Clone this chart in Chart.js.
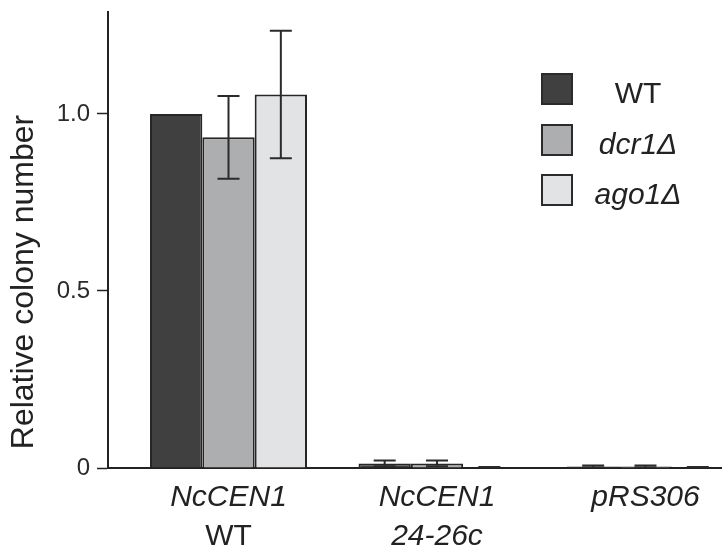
<!DOCTYPE html>
<html>
<head>
<meta charset="utf-8">
<script src="https://cdn.jsdelivr.net/npm/chart.js@4"></script>
<style>
  html, body { margin: 0; padding: 0; background: #fff; }
  #wrap { width: 722px; height: 548px; }
</style>
</head>
<body>
<div id="wrap"><canvas id="chart" width="722" height="548"></canvas></div>
<script>
// categories (line 1 / line 2 of each x label)
const categories = ['NcCEN1 WT', 'NcCEN1 24-26c', 'pRS306'];
const catLine1 = ['NcCEN1', 'NcCEN1', 'pRS306'];
const catLine2 = ['WT', '24-26c', ''];
const catLine2Italic = [false, true, false];

// series values (relative colony number)
const wtValues   = [1.000, 0.013, 0.004];
const dcr1Values = [0.934, 0.013, 0.004];
const ago1Values = [1.055, 0.002, 0.002];

// error (+/-)
const wtErrors   = [0.000, 0.008, 0.003];
const dcr1Errors = [0.117, 0.008, 0.003];
const ago1Errors = [0.180, 0.001, 0.001];

// y ticks
const yTicks = [0, 0.5, 1.0];
const yMax = 1.288;

const FONT = "'Liberation Sans', Arial, Helvetica, sans-serif";
const INK = '#222222';

function points(vals, errs) {
    return vals.map((v, i) => ({ x: i, y: v, err: errs[i] }));
}

// error bars drawn through the scales
const errorBars = {
    id: 'errorBars',
    afterDatasetsDraw(chart) {
        const ctx = chart.ctx;
        const yScale = chart.scales.y;
        const area = chart.chartArea;
        ctx.save();
        ctx.beginPath();
        ctx.rect(area.left, area.top - 2, area.right - area.left, area.bottom - area.top + 2);
        ctx.clip();
        ctx.strokeStyle = '#2b2b2b';
        ctx.lineWidth = 2;
        chart.data.datasets.forEach((ds, di) => {
            const meta = chart.getDatasetMeta(di);
            meta.data.forEach((bar, i) => {
                const p = ds.data[i];
                if (!p.err) return;
                const x = bar.x;
                const yTop = yScale.getPixelForValue(p.y + p.err);
                const yBot = yScale.getPixelForValue(p.y - p.err);
                const half = 11;
                ctx.beginPath();
                ctx.moveTo(x, yTop); ctx.lineTo(x, yBot);
                ctx.moveTo(x - half, yTop); ctx.lineTo(x + half, yTop);
                ctx.moveTo(x - half, yBot); ctx.lineTo(x + half, yBot);
                ctx.stroke();
            });
        });
        ctx.restore();
    }
};

// x labels, y title and legend
const decorations = {
    id: 'decorations',
    afterDraw(chart) {
        const ctx = chart.ctx;
        const xScale = chart.scales.x;
        ctx.save();
        ctx.fillStyle = INK;
        ctx.textAlign = 'center';
        ctx.textBaseline = 'alphabetic';

        categories.forEach((c, i) => {
            const x = xScale.getPixelForValue(i);
            ctx.font = 'italic 30px ' + FONT;
            ctx.fillText(catLine1[i], x, 506);
            if (catLine2[i]) {
                ctx.font = (catLine2Italic[i] ? 'italic ' : '') + '30px ' + FONT;
                ctx.fillText(catLine2[i], x, 545);
            }
        });

        // y axis title
        ctx.save();
        ctx.translate(33, 282);
        ctx.rotate(-Math.PI / 2);
        ctx.font = '32px ' + FONT;
        ctx.fillText('Relative colony number', 0, 0);
        ctx.restore();

        // legend
        const boxX = 541, boxSize = 32;
        const boxY = [73, 124, 174];
        const textY = [103, 154, 204];
        chart.data.datasets.forEach((ds, di) => {
            ctx.fillStyle = ds.backgroundColor;
            ctx.fillRect(boxX, boxY[di], boxSize, boxSize);
            ctx.strokeStyle = '#2b2b2b';
            ctx.lineWidth = 2;
            ctx.strokeRect(boxX + 1, boxY[di] + 1, boxSize - 2, boxSize - 2);
            ctx.fillStyle = INK;
            ctx.font = (di === 0 ? '' : 'italic ') + '30px ' + FONT;
            ctx.fillText(ds.label, 638, textY[di]);
        });
        ctx.restore();
    }
};

const barStyle = { borderColor: '#262626', borderWidth: 2, categoryPercentage: 0.753, barPercentage: 1.0 };

new Chart(document.getElementById('chart'), {
    type: 'bar',
    data: {
        datasets: [
            { label: 'WT', data: points(wtValues, wtErrors), backgroundColor: '#404040', ...barStyle },
            { label: 'dcr1\u0394', data: points(dcr1Values, dcr1Errors), backgroundColor: '#adaeb0', ...barStyle },
            { label: 'ago1\u0394', data: points(ago1Values, ago1Errors), backgroundColor: '#e2e3e5', ...barStyle }
        ]
    },
    options: {
        responsive: false,
        animation: false,
        layout: { padding: { top: 12, right: 0, left: 0, bottom: 0 } },
        plugins: { legend: { display: false }, tooltip: { enabled: false } },
        scales: {
            x: {
                type: 'linear',
                offset: false,
                min: -0.578,
                max: 2.367,
                afterBuildTicks: s => { s.ticks = categories.map((c, i) => ({ value: i })); },
                afterFit: s => { s.height = 80; s.paddingLeft = 0; s.paddingRight = 0; },
                ticks: { display: false },
                grid: { display: false },
                border: { display: true, color: '#222', width: 2 }
            },
            y: {
                min: 0,
                max: yMax,
                afterBuildTicks: s => { s.ticks = yTicks.map(v => ({ value: v })); },
                afterFit: s => { s.width = 108; s.paddingTop = 0; s.paddingBottom = 0; },
                ticks: {
                    padding: 7,
                    color: '#2a2a2a',
                    font: { family: FONT, size: 24 },
                    callback: v => (v === 0 ? '0' : v.toFixed(1))
                },
                grid: { drawOnChartArea: false, drawTicks: true, tickLength: 11, tickWidth: 1.5, tickColor: '#222' },
                border: { display: true, color: '#222', width: 2 }
            }
        }
    },
    plugins: [errorBars, decorations]
});
</script>
</body>
</html>
